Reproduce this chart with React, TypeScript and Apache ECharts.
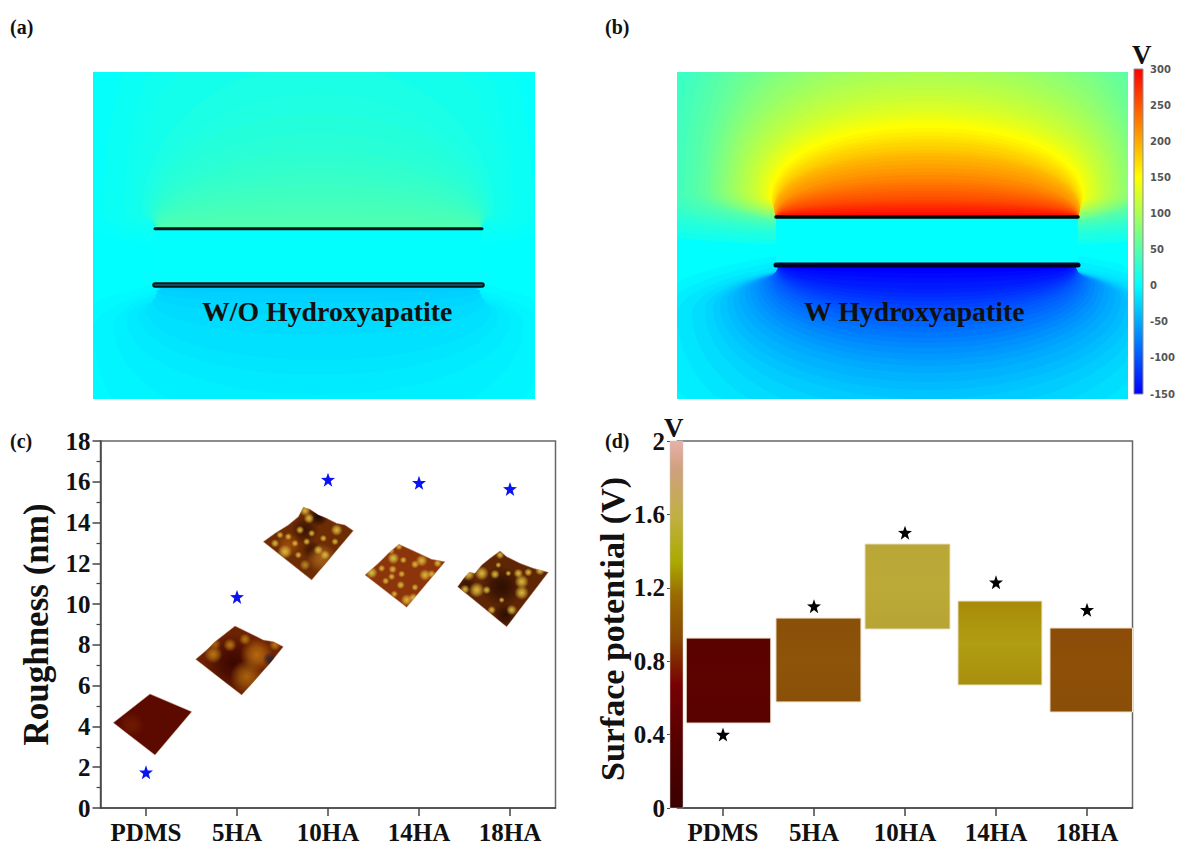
import React, { useEffect, useRef } from "react";
import * as echarts from "echarts";

const categories = ["PDMS", "5HA", "10HA", "14HA", "18HA"];
const roughness = [1.75, 10.35, 16.1, 15.95, 15.65];
const potential = [0.4, 1.1, 1.5, 1.23, 1.08];
// floating potential images: start, end (category units), low, high
const potentialBars = [
  [0.096, 1.025, 0.463, 0.926],
  [1.082, 2.016, 0.578, 1.035],
  [2.06, 2.995, 0.975, 1.439],
  [3.082, 4.005, 0.67, 1.128],
  [4.093, 5.0, 0.523, 0.981],
];
const barColors = [
  ["#5a0200", "#5c0300", "#580200"],
  ["#8a4f08", "#8e5409", "#8a5008"],
  ["#b8a636", "#bcaa38", "#b6a434"],
  ["#a88a08", "#b09e14", "#a88e0c"],
  ["#8c4c08", "#8e5008", "#8a4e08"],
];

// contours read from the field maps:
// volts, half width, reach on the far side, reach towards the gap, centre offset from the plate
const fieldAUpper = [
  [3, 245, 420, 25, 10], [6, 215, 370, 18, 14], [9, 195, 310, 12, 16], [12, 184, 240, 9, 18], [15, 176, 165, 7, 16],
  [18, 172, 135, 6, 14], [21, 169, 115, 5, 12], [24, 167, 95, 4, 10], [27, 165, 78, 3, 8], [30, 164, 66, 3, 6],
  [33, 164, 55, 2, 5], [36, 163, 44, 2, 4], [39, 163, 34, 2, 3], [42, 163, 24, 1, 2], [45, 163, 14, 1, 1], [48, 163, 6, 1, 0],
];
const fieldALower = [
  [-3, 260, 300, 15, 50], [-6, 225, 220, 12, 45], [-9, 205, 150, 10, 40], [-12, 192, 110, 6, 35], [-15, 180, 90, 5, 30],
  [-18, 172, 75, 4, 25], [-21, 166, 50, 3, 16], [-24, 163, 30, 2, 10], [-27, 162, 18, 1, 6], [-30, 161, 8, 1, 3],
];
const fieldBUpper = [
  [10, 380, 600, 30, 10], [15, 340, 560, 26, 12], [20, 310, 520, 22, 15], [25, 290, 480, 20, 18], [30, 275, 440, 18, 20],
  [35, 262, 400, 16, 22], [40, 252, 360, 15, 24], [45, 243, 330, 14, 26], [50, 235, 300, 13, 28], [55, 228, 272, 12, 28],
  [60, 222, 250, 12, 28], [65, 217, 230, 12, 28], [70, 213, 212, 11, 28], [75, 209, 198, 11, 28], [80, 205, 186, 10, 28],
  [85, 201, 175, 10, 28], [90, 197, 165, 9, 28], [95, 193, 156, 9, 28], [100, 189, 148, 8, 28], [105, 185, 141, 8, 27],
  [110, 181, 134, 7, 27], [115, 177, 127, 7, 26], [120, 173, 121, 7, 26], [125, 170, 115, 6, 25], [130, 167, 110, 6, 25],
  [135, 164, 105, 6, 24], [140, 161, 101, 6, 23], [145, 159, 97, 5, 22], [150, 157, 93, 5, 20], [155, 156, 89, 4, 18],
  [160, 155, 85, 4, 16], [165, 155, 81, 3, 14], [170, 154, 78, 3, 12], [175, 154, 75, 3, 10], [180, 153, 71, 2, 9],
  [185, 153, 67, 2, 8], [190, 153, 64, 2, 7], [195, 153, 61, 2, 6], [200, 153, 57, 2, 5], [205, 152, 53, 1, 4],
  [210, 152, 49, 1, 3], [215, 152, 45, 1, 0], [220, 152, 42, 1, 0], [225, 152, 38, 1, 0], [230, 152, 35, 1, 0],
  [235, 151, 32, 1, 0], [240, 151, 29, 1, 0], [245, 151, 26, 1, 0], [250, 151, 23, 1, 0], [255, 151, 20, 1, 0],
  [260, 151, 17, 1, 0], [265, 151, 15, 1, 0], [270, 151, 13, 1, 0], [275, 151, 11, 1, 0], [280, 151, 9, 1, 0],
  [285, 151, 7, 1, 0], [290, 151, 5, 1, 0], [295, 151, 3, 1, 0],
];
const fieldBLower = [
  [-5, 300, 300, 20, 60], [-10, 270, 240, 15, 55], [-15, 250, 205, 10, 50], [-20, 235, 180, 8, 48], [-25, 222, 162, 8, 45],
  [-30, 214, 147, 8, 42], [-35, 207, 134, 8, 40], [-40, 200, 125, 8, 37], [-45, 194, 117, 8, 34], [-50, 188, 108, 7, 30],
  [-55, 182, 101, 6, 27], [-60, 177, 95, 6, 24], [-65, 172, 89, 6, 22], [-70, 168, 83, 5, 20], [-75, 164, 78, 5, 18],
  [-80, 161, 73, 4, 16], [-85, 158, 67, 4, 14], [-90, 156, 62, 3, 12], [-95, 154, 57, 3, 10], [-100, 152, 52, 2, 8],
  [-105, 151, 48, 2, 6], [-110, 150, 44, 2, 5], [-115, 150, 40, 2, 4], [-120, 149, 36, 2, 3], [-125, 149, 32, 1, 2],
  [-130, 148, 28, 1, 1], [-135, 148, 24, 1, 1], [-140, 147, 18, 1, 0], [-145, 147, 13, 1, 0], [-150, 146, 8, 1, 0],
];

const FONT = "Liberation Serif";
const STAR = "path://M50 2 L62 36 L98 37 L69 59 L79 95 L50 74 L21 95 L31 59 L2 37 L38 36 Z";

function jet(v: number) {
  const s: [number, number[]][] = [
    [-150, [0, 0, 255]], [0, [0, 255, 255]], [75, [128, 255, 128]], [150, [255, 255, 0]], [225, [255, 128, 0]], [300, [255, 0, 0]],
  ];
  for (let i = 1; i < s.length; i++) {
    if (v <= s[i][0]) {
      const t = Math.max(0, (v - s[i - 1][0]) / (s[i][0] - s[i - 1][0]));
      const c = s[i - 1][1].map((a, k) => Math.round(a + (s[i][1][k] - a) * t));
      return `rgb(${c.join(",")})`;
    }
  }
  return "rgb(255,0,0)";
}

function contourSeries(idx: number, rows: number[][], cx: number, base: number, w: number, h: number, lower: boolean, p = 1) {
  return {
    type: "custom", xAxisIndex: idx, yAxisIndex: idx, z: 2, silent: true,
    data: rows,
    encode: { x: 1, y: 2 },
    renderItem: (_p: any, api: any) => {
      const v = api.value(0), rx = api.value(1), far = api.value(2), near = api.value(3), off = api.value(4);
      const cy = lower ? base + off : base - off;
      const ru = lower ? off + near : far - off;
      const rd = lower ? far - off : off + near;
      const pts: number[][] = [];
      const N = 40;
      const pow = (c: number) => Math.sign(c) * Math.pow(Math.abs(c), p);
      for (let i = 0; i < 2 * N; i++) {
        const t = Math.PI - (i / N) * Math.PI;
        const c = pow(Math.cos(t)), s = pow(Math.sin(t));
        const x = Math.min(w, Math.max(0, cx + rx * c));
        const y = Math.min(h, Math.max(0, s >= 0 ? cy - ru * s : cy - rd * s));
        pts.push(api.coord([x, y]));
      }
      return { type: "polygon", shape: { points: pts }, style: { fill: jet(v) } };
    },
  };
}

function bandSeries(idx: number, x0: number, x1: number, y0: number, y1: number, v: number, z: number) {
  return {
    type: "custom", xAxisIndex: idx, yAxisIndex: idx, z, silent: true,
    data: [[x0, y0, x1, y1]],
    renderItem: (_p: any, api: any) => {
      const a = api.coord([api.value(0), api.value(1)]);
      const b = api.coord([api.value(2), api.value(3)]);
      return { type: "rect", shape: { x: a[0], y: a[1], width: b[0] - a[0], height: b[1] - a[1] }, style: { fill: jet(v) } };
    },
  };
}

function plate(idx: number, x0: number, x1: number, y: number, width: number, color: string) {
  return {
    type: "line", xAxisIndex: idx, yAxisIndex: idx, z: 4, silent: true, symbol: "none",
    data: [[x0, y], [x1, y]],
    lineStyle: { color, width, cap: "round" },
  };
}

function gradientBar(xIdx: number, yIdx: number, lo: number, hi: number, stops: any[], stroke: string, lineWidth: number) {
  return {
    type: "custom", xAxisIndex: xIdx, yAxisIndex: yIdx, z: 6, silent: true,
    data: [[0, lo, 1, hi]],
    renderItem: (_p: any, api: any) => {
      const a = api.coord([api.value(0), api.value(3)]);
      const b = api.coord([api.value(2), api.value(1)]);
      return {
        type: "rect",
        shape: { x: a[0], y: a[1], width: b[0] - a[0], height: b[1] - a[1] },
        style: { fill: { type: "linear", x: 0, y: 1, x2: 0, y2: 0, colorStops: stops }, stroke, lineWidth },
      };
    },
  };
}

// small AFM topography pictures placed over panel (c); each shading is the
// same outline filled with a radial gradient so that it stays inside the outline
const GOLD = "#dcb83a";
type Bump = [number, number, number, string?];
function afm(outline: number[][], fill: string, bumps: Bump[], ox: number, oy: number) {
  const points = outline.map((p) => [ox + p[0] / 3, oy + p[1] / 3]);
  const els: any[] = [{ type: "polygon", z: 50, shape: { points }, style: { fill, stroke: "#c89a80", lineWidth: 0.5 } }];
  bumps.forEach(([x, y, r, c]) => {
    const col = c || GOLD;
    els.push({
      type: "polygon", z: 51, shape: { points },
      style: {
        fill: {
          type: "radial", x: ox + x / 3, y: oy + y / 3, r: (r / 3) * (r <= 14 ? 1.8 : 1.25), global: true,
          colorStops: [
            { offset: 0, color: col }, { offset: 0.45, color: col + "aa" }, { offset: 1, color: col + "00" },
          ],
        },
      },
    });
  });
  return els;
}

const outline10 = [[25,125],[60,100],[100,75],[130,50],[145,22],[165,28],[190,45],[215,55],[245,70],[270,75],[295,92],[170,240]];
const bumps10: Bump[] = [[190,50,24,"#200a02"],[150,90,34,"#3c1403"],[170,150,24,"#3c1403"],[200,175,36,"#a5641a"],[100,135,30,"#9a4a0a"],[150,32,9],[162,55,9],[135,90,7],[245,90,10],[90,155,12],[155,125,6],[205,115,6],[60,130,7],[130,165,6],[190,150,8],[170,100,6],[100,110,6],[120,130,6],[150,195,9,"#b98a24"],[210,165,8],[240,125,6],[75,105,6]];
const outline14 = [[330,225],[370,190],[405,155],[432,133],[470,150],[530,178],[570,185],[455,322]];
const bumps14: Bump[] = [[415,175,10,"#d2c440"],[350,218,10,"#d2c440"],[408,152,6],[432,140,6],[500,182,10],[480,193,7],[548,190,7],[510,225,10],[530,222,7],[413,208,7],[392,243,6],[410,230,6],[440,222,6],[437,255,7],[418,282,6],[480,262,6],[475,293,8],[455,300,10],[445,180,6],[380,205,6]];
const outline18 = [[53,140],[75,110],[88,97],[105,100],[125,75],[150,55],[180,33],[200,50],[240,70],[280,85],[325,97],[200,260]];
const bumps18: Bump[] = [[185,140,50,"#2e0e02"],[195,225,30,"#2e0e02"],[80,135,24,"#3a1403"],[85,103,11],[125,100,12],[165,103,8],[235,100,8],[265,97,7],[300,92,8],[245,125,12],[245,158,12],[110,150,13],[75,148,8],[140,150,7],[215,210,9],[155,210,7],[180,45,7],[205,100,5],[175,75,5],[185,180,5]];
const outlinePdms = [[40,308],[150,222],[275,275],[165,405]];
const outline5 = [[287,118],[320,90],[345,65],[405,18],[440,35],[490,60],[520,65],[550,80],[510,130],[425,225]];
const bumps5: Bump[] = [[400,130,70,"#3c0600"],[470,105,40,"#b5690e"],[440,170,40,"#a9620c"],[340,103,22,"#b87612"],[390,75,16,"#b87612"],[435,58,10,"#b87612"],[525,75,10,"#b87612"],[345,72,10,"#a9620c"],[510,118,12,"#33202a"]];

function App() {
  const ref = useRef<HTMLDivElement>(null);
  useEffect(() => {
    const chart = echarts.init(ref.current!, undefined, { renderer: "svg" });
    const hidden = (extra: any) => ({ type: "value", show: false, ...extra });
    const label = { fontFamily: FONT, fontWeight: "bold", fontSize: 25, color: "#111" };
    const axisLineC = { show: true, lineStyle: { color: "#444", width: 1.5 } };
    const title = (text: string, x: number, y: number, size = 20) => ({
      type: "text", z: 100, x, y, style: { text, fontFamily: FONT, fontWeight: "bold", fontSize: size, fill: "#111" },
    });
    const colorbarStops = [
      { offset: 0, color: jet(-150) }, { offset: 1 / 3, color: jet(0) }, { offset: 0.5, color: jet(75) },
      { offset: 2 / 3, color: jet(150) }, { offset: 5 / 6, color: jet(225) }, { offset: 1, color: jet(300) },
    ];
    const option: any = {
      animation: false,
      backgroundColor: "#fff",
      grid: [
        { left: 93, top: 72, width: 442, height: 327 },
        { left: 677, top: 72, width: 451, height: 327 },
        { left: 1134, top: 69, width: 13, height: 325 },
        { left: 100.5, top: 441, width: 455, height: 368, show: true, borderColor: "#666", borderWidth: 1.5 },
        { left: 677.5, top: 441, width: 455, height: 367, show: true, borderColor: "#666", borderWidth: 1.5 },
        { left: 670, top: 441, width: 13, height: 367 },
      ],
      xAxis: [
        hidden({ gridIndex: 0, min: 0, max: 442 }),
        hidden({ gridIndex: 1, min: 0, max: 451 }),
        hidden({ gridIndex: 2, min: 0, max: 1 }),
        {
          type: "category", gridIndex: 3, position: "bottom", data: categories, axisLine: axisLineC,
          axisTick: { show: true, alignWithLabel: true, length: 8, lineStyle: { color: "#444", width: 1.5 } },
          axisLabel: { ...label, margin: 12, interval: 0 },
        },
        hidden({ gridIndex: 4, position: "top", min: 0, max: 5 }),
        {
          type: "category", gridIndex: 4, position: "bottom", data: categories, axisLine: axisLineC,
          axisTick: { show: true, alignWithLabel: true, length: 8, lineStyle: { color: "#444", width: 1.5 } },
          axisLabel: { ...label, margin: 12, interval: 0 },
        },
        hidden({ gridIndex: 5, min: 0, max: 1 }),
      ],
      yAxis: [
        hidden({ gridIndex: 0, min: 0, max: 327, inverse: true }),
        hidden({ gridIndex: 1, min: 0, max: 327, inverse: true }),
        {
          type: "value", gridIndex: 2, position: "right", min: -150, max: 300, interval: 50,
          axisLine: { show: false }, splitLine: { show: false },
          axisTick: { show: false },
          axisLabel: { fontFamily: "DejaVu Sans", fontWeight: "bold", fontSize: 10, color: "#555", margin: 7 },
        },
        {
          type: "value", gridIndex: 3, min: 0, max: 18, interval: 2, splitLine: { show: false },
          axisLine: axisLineC,
          axisTick: { show: true, length: 8, lineStyle: { color: "#444", width: 1.5 } },
          minorTick: { show: true, splitNumber: 2, length: 4, lineStyle: { color: "#444", width: 1.2 } },
          axisLabel: { ...label, margin: 10 },
          name: "Roughness (nm)", nameLocation: "middle", nameGap: 47, nameRotate: 90,
          nameTextStyle: { fontFamily: FONT, fontWeight: "bold", fontSize: 35, color: "#111" },
        },
        hidden({ gridIndex: 4, min: 0, max: 2 }),
        {
          type: "value", gridIndex: 5, min: 0, max: 2, interval: 0.4, splitLine: { show: false },
          axisLine: { show: false },
          axisTick: { show: true, length: 3, lineStyle: { color: "#444" } },
          axisLabel: { ...label, margin: 5, formatter: (v: number) => String(+v.toFixed(1)) },
          name: "Surface potential (V)", nameLocation: "middle", nameGap: 39, nameRotate: 90,
          nameTextStyle: { fontFamily: FONT, fontWeight: "bold", fontSize: 34, color: "#111", padding: [0, 9, 0, 0] },
        },
      ],
      series: [
        bandSeries(0, 0, 442, 0, 327, 0, 1),
        contourSeries(0, fieldAUpper, 225.5, 156.7, 442, 327, false),
        contourSeries(0, fieldALower, 225.5, 213, 442, 327, true),
        bandSeries(0, 62, 389, 156.7, 213, 1, 3),
        plate(0, 62, 389, 156.7, 3, "#06161a"),
        plate(0, 62, 389, 213, 5.5, "#06161a"),
        plate(0, 62, 389, 213, 1.6, "#1d5f6e"),
        bandSeries(1, 0, 451, 0, 327, 0, 1),
        contourSeries(1, fieldBUpper, 250, 145, 451, 327, false, 0.94),
        contourSeries(1, fieldBLower, 250, 193, 451, 327, true),
        bandSeries(1, 99, 401, 145, 193, 0, 3),
        plate(1, 99, 401, 145, 3.5, "#050505"),
        plate(1, 99, 401, 193, 5, "#03032a"),
        gradientBar(2, 2, -150, 300, colorbarStops, "#8a8a8a", 1),
        {
          type: "scatter", xAxisIndex: 3, yAxisIndex: 3, data: roughness, symbol: STAR, symbolSize: 14,
          itemStyle: { color: "#0a14f0", opacity: 1 }, z: 5,
        },
        {
          type: "custom", xAxisIndex: 4, yAxisIndex: 4, z: 3, silent: true, data: potentialBars,
          renderItem: (p: any, api: any) => {
            const a = api.coord([api.value(0), api.value(3)]);
            const b = api.coord([api.value(1), api.value(2)]);
            const c = barColors[p.dataIndex];
            return {
              type: "rect",
              shape: { x: a[0], y: a[1], width: b[0] - a[0], height: b[1] - a[1] },
              style: {
                fill: {
                  type: "linear", x: 0, y: 0, x2: 0, y2: 1,
                  colorStops: [{ offset: 0, color: c[0] }, { offset: 0.5, color: c[1] }, { offset: 1, color: c[2] }],
                },
                stroke: "#f0e4cc", lineWidth: 1,
              },
            };
          },
        },
        {
          type: "scatter", xAxisIndex: 5, yAxisIndex: 4, data: potential, symbol: STAR, symbolSize: 14,
          itemStyle: { color: "#000", opacity: 1 }, z: 5,
        },
        gradientBar(6, 5, 0, 2, [
          { offset: 0, color: "#3a0000" }, { offset: 0.2, color: "#5a0000" }, { offset: 0.335, color: "#780000" },
          { offset: 0.465, color: "#8a4a00" }, { offset: 0.58, color: "#9a6a00" }, { offset: 0.67, color: "#aaaa00" },
          { offset: 0.79, color: "#c0b040" }, { offset: 0.925, color: "#d0a080" }, { offset: 1, color: "#e8b0a8" },
        ], "#c8c8c8", 0.5),
      ],
      graphic: [
        title("(a)", 10, 17), title("(b)", 605, 17), title("(c)", 10, 431), title("(d)", 605, 431),
        title("V", 1132, 41, 27), title("V", 664, 414, 27),
        title("W/O Hydroxyapatite", 202, 297, 27.8), title("W Hydroxyapatite", 804, 297, 27.8),
        ...afm(outlinePdms, "#5c0a00", [[95, 315, 30, "#6e1a02"]], 100, 620),
        ...afm(outline5, "#6c2203", bumps5, 100, 620),
        ...afm(outline10, "#6e2c05", bumps10, 255, 500),
        ...afm(outline14, "#8c340a", bumps14, 255, 500),
        ...afm(outline18, "#5e2604", bumps18, 440, 540),
      ],
    };
    chart.setOption(option);
    return () => chart.dispose();
  }, []);
  return <div ref={ref} style={{ position: "fixed", left: 0, top: 0, width: 1178, height: 845 }} />;
}

export default App;
